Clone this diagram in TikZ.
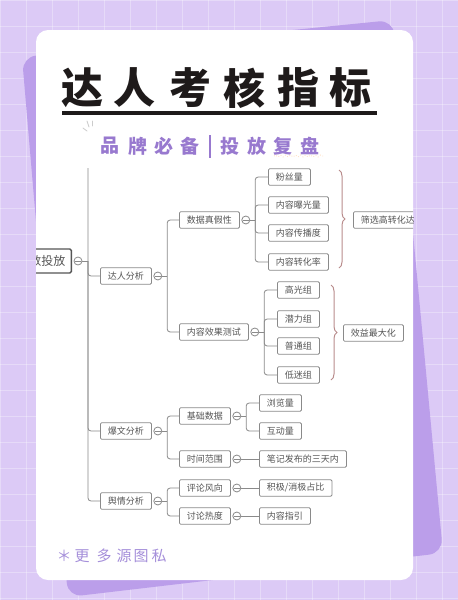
\documentclass[tikz,border=0pt]{standalone}
\usepackage{fontspec}
\newfontfamily\cjk{Noto Sans CJK SC}
\usetikzlibrary{decorations.pathreplacing,decorations.pathmorphing}
\definecolor{bgcol}{HTML}{DCCAF6}
\definecolor{shadowcol}{HTML}{BB9EEA}
\definecolor{titlecol}{HTML}{1E1A1A}
\definecolor{subcol}{HTML}{9879CF}
\definecolor{footcol}{HTML}{A58FDA}
\definecolor{boxgray}{HTML}{8A8A8A}
\definecolor{textgray}{HTML}{555555}
\definecolor{linegray}{HTML}{8A8A8A}
\definecolor{bracecol}{HTML}{B98C8C}
\tikzset{
  box/.style={draw=boxgray, line width=0.8pt, rounded corners=1.2pt, fill=white,
    font=\cjk\fontsize{9}{10}\selectfont, text=textgray, inner xsep=7.5pt, inner ysep=0pt,
    minimum height=16.5pt, anchor=west},
  rootbox/.style={draw=textgray, line width=1.3pt, rounded corners=1.5pt, fill=white,
    font=\cjk\fontsize{12}{13}\selectfont, text=textgray, inner xsep=6pt, inner ysep=0pt,
    minimum height=24pt, anchor=east},
  fold/.style={circle, draw=boxgray, line width=0.8pt, fill=white, minimum size=8pt, inner sep=0pt,
    path picture={\draw[boxgray, line width=0.7pt] ([xshift=-3pt]path picture bounding box.center) -- ([xshift=3pt]path picture bounding box.center);}},
  link/.style={draw=linegray, line width=0.8pt, rounded corners=3pt},
  curly/.style={draw=bracecol, line width=1pt, decorate, decoration={brace, amplitude=6pt}},
  ttl/.style={font=\cjk\bfseries\fontsize{42}{44}\selectfont, text=titlecol, inner sep=0pt},
  sub/.style={font=\cjk\bfseries\fontsize{19}{20}\selectfont, text=subcol, inner sep=0pt},
  foot/.style={font=\cjk\fontsize{15}{16}\selectfont, text=footcol, inner sep=0pt},
}
\begin{document}
\begin{tikzpicture}[x=1pt,y=-1pt]
\useasboundingbox (0,0) rectangle (458,600);
% background
\fill[bgcol] (0,0) rectangle (458,600);
\foreach \g in {0,26,...,600} {
  \draw[white, opacity=0.3, line width=0.6pt] (\g,0) -- (\g,600);
  \draw[white, opacity=0.3, line width=0.6pt] (0,\g) -- (458,\g);
}
% shadow card
\fill[shadowcol, rounded corners=14pt] (22,57) -- (393,20) -- (443,553) -- (68,597) -- cycle;
% white card
\fill[white, rounded corners=12pt] (36,30) rectangle (413,580);

% title
\foreach \c/\x in {达/82, 人/134, 考/190, 核/244, 指/298, 标/350} {
  \node[ttl] (t\x) at (\x,88) {\c};
}
\draw[titlecol, line width=3.5pt] (62,113) -- (377,113);
% sparkle ticks
\draw[gray!40, line width=0.8pt, line cap=round] (83,128) -- (87,131);
\draw[gray!40, line width=0.8pt, line cap=round] (87,121) -- (89,127);
\draw[gray!40, line width=0.8pt, line cap=round] (92,121) -- (92,126);
% subtitle
\foreach \c/\x in {品/110, 牌/138, 必/164, 备/190, 投/230, 放/257, 复/283, 盘/310} {
  \node[sub] (s\x) at (\x,146) {\c};
}
\draw[subcol, line width=2.2pt] (210,135) -- (210,158);
\draw[decorate, decoration={snake, amplitude=1pt, segment length=5pt}, draw=orange!25, line width=0.8pt, dotted] (274,156) -- (324,156);

% mind map clipped to card
\begin{scope}
\clip[rounded corners=12pt] (36,30) rectangle (413,580);
\node[rootbox] (root) at (72,261) {数投放};
\node[fold] (rf) at ([xshift=6pt]root.east) {};

% level 1
\node[box] (n1) at (100,276) {达人分析};
\node[box] (n2) at (100,431) {爆文分析};
\node[box] (n3) at (100,501) {舆情分析};
\node[fold] (f1) at ([xshift=6pt]n1.east) {};
\node[fold] (f2) at ([xshift=6pt]n2.east) {};
\node[fold] (f3) at ([xshift=6pt]n3.east) {};

\coordinate (ttop) at (88,168);
\coordinate (tr) at (88,261);
\draw[link] (rf.east) -- (tr);
\draw[link] (ttop) |- (n3.west);
\draw[link] (tr) |- (n1.west);
\draw[link] (tr) |- (n2.west);

% level 2
\node[box] (m1) at (179,220) {数据真假性};
\node[box] (m2) at (179,332) {内容效果测试};
\node[box] (m3) at (179,416) {基础数据};
\node[box] (m4) at (179,459) {时间范围};
\node[box] (m5) at (179,488) {评论风向};
\node[box] (m6) at (179,516) {讨论热度};
\node[fold] (g1) at ([xshift=6pt]m1.east) {};
\node[fold] (g2) at ([xshift=6pt]m2.east) {};
\node[fold] (g3) at ([xshift=6pt]m3.east) {};
\node[fold] (g4) at ([xshift=6pt]m4.east) {};
\node[fold] (g5) at ([xshift=6pt]m5.east) {};
\node[fold] (g6) at ([xshift=6pt]m6.east) {};

\coordinate (j1) at ([xshift=5pt]f1.east);
\draw[link] (f1.east) -- (j1);
\draw[link] (j1) |- (m1.west);
\draw[link] (j1) |- (m2.west);
\coordinate (j2) at ([xshift=5pt]f2.east);
\draw[link] (f2.east) -- (j2);
\draw[link] (j2) |- (m3.west);
\draw[link] (j2) |- (m4.west);
\coordinate (j3) at ([xshift=5pt]f3.east);
\draw[link] (f3.east) -- (j3);
\draw[link] (j3) |- (m5.west);
\draw[link] (j3) |- (m6.west);

% level 3
\node[box] (a1) at (268,177) {粉丝量};
\node[box] (a2) at (268,205) {内容曝光量};
\node[box] (a3) at (268,233) {内容传播度};
\node[box] (a4) at (268,262) {内容转化率};
\coordinate (k1) at ([xshift=5pt]g1.east);
\draw[link] (g1.east) -- (k1);
\foreach \t in {a1,a2,a3,a4} \draw[link] (k1) |- (\t.west);

\node[box] (b1) at (277,290) {高光组};
\node[box] (b2) at (277,319) {潜力组};
\node[box] (b3) at (277,346) {普通组};
\node[box] (b4) at (277,375) {低迷组};
\coordinate (k2) at ([xshift=5pt]g2.east);
\draw[link] (g2.east) -- (k2);
\foreach \t in {b1,b2,b3,b4} \draw[link] (k2) |- (\t.west);

\node[box] (c1) at (259,403) {浏览量};
\node[box] (c2) at (259,431) {互动量};
\coordinate (k3) at ([xshift=5pt]g3.east);
\draw[link] (g3.east) -- (k3);
\draw[link] (k3) |- (c1.west);
\draw[link] (k3) |- (c2.west);

\node[box] (d1) at (259,459) {笔记发布的三天内};
\node[box] (d2) at (259,488) {积极/消极占比};
\node[box] (d3) at (259,516) {内容指引};
\draw[link] (g4.east) -- (d1.west);
\draw[link] (g5.east) -- (d2.west);
\draw[link] (g6.east) -- (d3.west);

% braces and summaries
\coordinate (br1a) at (339,170);
\coordinate (br1b) at (339,268);
\draw[curly] (br1a) -- (br1b);
\node[box] (r1) at (353,220) {筛选高转化达人};
\coordinate (br2a) at (331,285);
\coordinate (br2b) at (331,380);
\draw[curly] (br2a) -- (br2b);
\node[box] (r2) at (343,333) {效益最大化};
\end{scope}

% footer
\foreach \c/\x in {＊/64, 更/82, 多/104, 源/124, 图/141, 私/159} {
  \node[foot] (ft\x) at (\x,556) {\c};
}
\end{tikzpicture}
\end{document}
